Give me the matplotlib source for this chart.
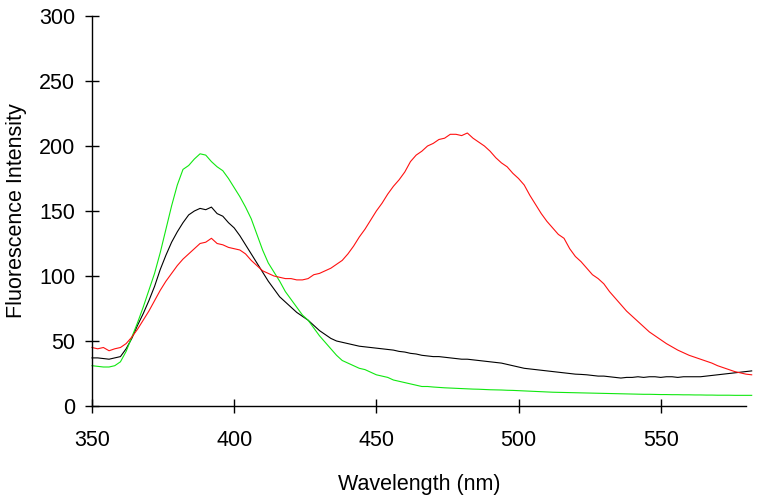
import matplotlib
matplotlib.use("Agg")
import matplotlib.pyplot as plt

plt.rcParams['font.family'] = ['Liberation Sans', 'DejaVu Sans']

wavelength = list(range(350, 584, 2))

green = [31, 30.5, 30, 30, 31, 34, 42, 53, 64, 76, 89, 102, 118, 136, 154, 170, 182, 185, 190, 194,
         193, 188, 184, 181, 175, 168, 161, 153, 144, 132, 120, 110, 103, 96, 88, 82, 76, 70, 66, 60,
         54, 49, 44, 39, 35, 33, 31, 29, 28, 26, 24, 23, 22, 20, 19, 18, 17, 16, 15, 15,
         14.6, 14.3, 14, 13.8, 13.6, 13.4, 13.2, 13, 12.9, 12.7, 12.5, 12.4, 12.3, 12.1, 12, 11.8,
         11.6, 11.4, 11.2, 11.0, 10.8, 10.6, 10.5, 10.4, 10.3, 10.2, 10.1, 10.0, 9.9, 9.8, 9.7, 9.6,
         9.5, 9.4, 9.3, 9.2, 9.1, 9.0, 9.0, 8.9, 8.8, 8.8, 8.7, 8.7, 8.6, 8.6, 8.5, 8.5, 8.4, 8.4,
         8.3, 8.3, 8.3, 8.2, 8.2, 8.2, 8.2]

black = [37, 37, 36.5, 36, 37, 38, 44, 52, 62, 71, 81, 92, 105, 116, 126, 134, 141, 147, 150, 152,
         151, 153, 148, 146, 141, 137, 131, 124, 117, 110, 103, 96, 90, 84, 80, 76, 72, 69, 66, 62,
         58, 55, 52, 50, 49, 48, 47, 46, 45.5, 45, 44.5, 44, 43.5, 43, 42, 41.5, 40.5, 40, 39, 38.5,
         38, 38, 37.5, 37, 36.5, 36, 36, 35.5, 35, 34.5, 34, 33.5, 33, 32, 31, 30, 29, 28.5, 28, 27.5,
         27, 26.5, 26, 25.5, 25, 24.5, 24.3, 24, 23.5, 23, 23, 22.5, 22, 21.5, 22, 22, 22.5, 22, 22.5,
         22.5, 22, 22.5, 22.5, 22, 22.5, 22.5, 22.5, 22.5, 23, 23.5, 24, 24.5, 25, 25.5, 26, 26.5, 27]

red = [45, 44, 45, 42.5, 44, 45, 48, 53, 59, 66, 73, 81, 89, 96, 102, 108, 113, 117, 121, 125,
       126, 129, 125, 124, 122, 121, 120, 117, 112, 108, 104, 102, 100, 99, 98, 98, 97, 97, 98, 101,
       102, 104, 106, 109, 112, 117, 123, 130, 136, 143, 150, 156, 163, 169, 174, 180, 188, 193, 196, 200,
       202, 205, 206, 209, 209, 208, 210, 206, 203, 200, 196, 191, 187, 184, 179, 175, 170, 162, 155, 148,
       142, 137, 132, 129, 121, 115, 111, 106, 101, 98, 94, 88, 83, 78, 73, 69, 65, 61, 57, 54,
       51, 48, 45.5, 43, 41, 39, 37.5, 36, 34.5, 33, 31, 29.5, 28, 26.5, 25.5, 24.5, 24]

x_ticks = [350, 400, 450, 500, 550]
y_ticks = [0, 50, 100, 150, 200, 250, 300]

fig = plt.figure(figsize=(7.59, 4.96), dpi=100)
ax = fig.add_axes([92 / 759, 1 - 406 / 496, (746 - 92) / 759, (406 - 16) / 496])

ax.plot(wavelength, black, color='black', lw=0.8, clip_on=False)
ax.plot(wavelength, green, color='#10e810', lw=0.8, clip_on=False)
ax.plot(wavelength, red, color='#ff1010', lw=0.8, clip_on=False)

ax.set_xlim(350, 580)
ax.set_ylim(0, 300)
ax.set_xticks(x_ticks)
ax.set_yticks(y_ticks)
for s in ['top', 'right']:
    ax.spines[s].set_visible(False)
for s in ['left', 'bottom']:
    ax.spines[s].set_linewidth(1.0)
ax.tick_params(direction='inout', length=10, width=1.0, labelsize=15.5)
ax.tick_params(axis='x', pad=12)
ax.tick_params(axis='y', pad=7)

ax.set_xlabel('Wavelength (nm)', fontsize=15.5, labelpad=17)
ax.set_ylabel('Fluorescence Intensity', fontsize=15.5, labelpad=9)

fig.savefig('out.png', dpi=100)
